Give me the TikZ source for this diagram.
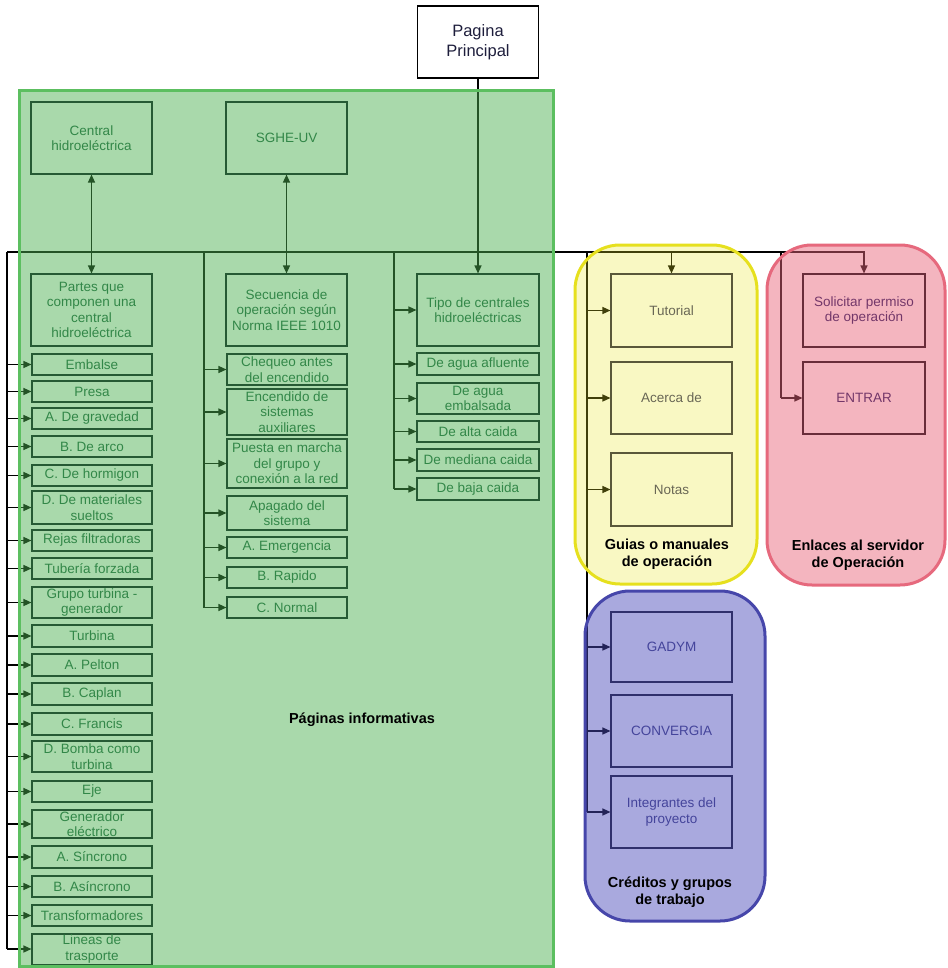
\documentclass[tikz,border=0pt]{standalone}
\usepackage{fontspec}
\setmainfont{Liberation Sans}
\usetikzlibrary{arrows.meta}

% connectors sit under the tinted zones, boxes and labels above them
\pgfdeclarelayer{links}
\pgfdeclarelayer{tint}
\pgfsetlayers{links,tint,main}

\definecolor{grnfill}{RGB}{76,175,80}
\definecolor{grnedge}{RGB}{92,191,96}
\definecolor{grnline}{RGB}{38,90,52}
\definecolor{grntext}{RGB}{50,135,72}
\definecolor{ylwfill}{RGB}{235,230,40}
\definecolor{ylwedge}{RGB}{230,224,30}
\definecolor{ylwline}{RGB}{90,88,58}
\definecolor{ylwtext}{RGB}{105,103,85}
\definecolor{pnkfill}{RGB}{232,100,122}
\definecolor{pnkedge}{RGB}{230,105,125}
\definecolor{pnkline}{RGB}{105,45,58}
\definecolor{pnktext}{RGB}{115,55,105}
\definecolor{blufill}{RGB}{75,75,185}
\definecolor{bluedge}{RGB}{70,70,170}
\definecolor{bluline}{RGB}{48,48,108}
\definecolor{blutext}{RGB}{68,68,155}
\definecolor{navy}{RGB}{30,30,60}

\tikzset{
  box/.style={draw, line width=1.1pt, inner sep=1pt, align=center,
    font=\fontsize{13.5}{15.5}\selectfont},
  sz/.style 2 args={minimum width=#1, minimum height=#2},
  gbox/.style={box, draw=grnline, text=grntext},
  ybox/.style={box, draw=ylwline, text=ylwtext},
  pbox/.style={box, draw=pnkline, text=pnktext},
  bbox/.style={box, draw=bluline, text=blutext},
  topbox/.style={box, draw=black, text=navy, font=\fontsize{16.5}{19.5}\selectfont},
  link/.style={draw=black, line width=1.3pt},
  arrowlink/.style={link, -{Triangle[length=8pt,width=7pt]}},
  dbl/.style={link, {Triangle[length=8pt,width=7pt]}-{Triangle[length=8pt,width=7pt]}},
  zonelabel/.style={align=center, text=black,
    font=\bfseries\fontsize{14.5}{16.5}\selectfont},
}

\begin{document}
\begin{tikzpicture}[x=1pt,y=-1pt]
\useasboundingbox (0,0) rectangle (947,968);

% ---------- top level ----------
\node[topbox, sz={121}{72}] (pp) at (478,42) {Pagina\\Principal};

% ---------- informative pages ----------
\node[gbox, sz={121}{72}] (central) at (91.5,138) {Central\\hidroeléctrica};
\node[gbox, sz={121}{72}] (sghe) at (286.5,138) {SGHE-UV};
\node[gbox, sz={121}{72}] (partes) at (91.5,310) {Partes que\\componen una\\central\\hidroeléctrica};
\node[gbox, sz={121}{72}] (secuencia) at (286.5,310) {Secuencia de\\operación según\\Norma IEEE 1010};
\node[gbox, sz={122}{72}] (tipo) at (478,310) {Tipo de centrales\\hidroeléctricas};

% parts of a plant
\node[gbox, sz={120}{21}] (embalse) at (92,364.5) {Embalse};
\node[gbox, sz={120}{21}] (presa) at (92,391.5) {Presa};
\node[gbox, sz={120}{21}] (gravedad) at (92,418.5) {A. De gravedad};
\node[gbox, sz={120}{21}] (arco) at (92,446.5) {B. De arco};
\node[gbox, sz={120}{21}] (hormigon) at (92,475.5) {C. De hormigon};
\node[gbox, sz={120}{33}] (materiales) at (92,507.5) {D. De materiales\\sueltos};
\node[gbox, sz={120}{21}] (rejas) at (92,540.5) {Rejas filtradoras};
\node[gbox, sz={120}{21}] (tuberia) at (92,568.5) {Tubería forzada};
\node[gbox, sz={120}{31}] (grupo) at (92,602.5) {Grupo turbina -\\generador};
\node[gbox, sz={120}{22}] (turbina) at (92,636) {Turbina};
\node[gbox, sz={120}{22}] (pelton) at (92,665) {A. Pelton};
\node[gbox, sz={120}{22}] (caplan) at (92,694) {B. Caplan};
\node[gbox, sz={120}{22}] (francis) at (92,724) {C. Francis};
\node[gbox, sz={120}{31}] (bomba) at (92,756.5) {D. Bomba como\\turbina};
\node[gbox, sz={120}{21}] (eje) at (92,791.5) {Eje};
\node[gbox, sz={120}{28}] (generador) at (92,824) {Generador\\eléctrico};
\node[gbox, sz={120}{22}] (sincrono) at (92,857) {A. Síncrono};
\node[gbox, sz={120}{21}] (asincrono) at (92,886.5) {B. Asíncrono};
\node[gbox, sz={120}{21}] (transf) at (92,915.5) {Transformadores};
\node[gbox, sz={120}{28}] (lineas) at (92,949) {Lineas de\\trasporte};

% operation sequence
\node[gbox, sz={120}{31}] (chequeo) at (287,369.5) {Chequeo antes\\del encendido};
\node[gbox, sz={120}{46}] (encendido) at (287,412) {Encendido de\\sistemas\\auxiliares};
\node[gbox, sz={120}{49}] (puesta) at (287,463.5) {Puesta en marcha\\del grupo y\\conexión a la red};
\node[gbox, sz={120}{34}] (apagado) at (287,513) {Apagado del\\sistema};
\node[gbox, sz={120}{21}] (emergencia) at (287,547.5) {A. Emergencia};
\node[gbox, sz={120}{21}] (rapido) at (287,577.5) {B. Rapido};
\node[gbox, sz={120}{21}] (normal) at (287,607.5) {C. Normal};

% plant types
\node[gbox, sz={122}{22}] (afluente) at (478,364) {De agua afluente};
\node[gbox, sz={122}{31}] (embalsada) at (478,398.5) {De agua\\embalsada};
\node[gbox, sz={122}{21}] (alta) at (478,431.5) {De alta caida};
\node[gbox, sz={122}{22}] (mediana) at (478,460) {De mediana caida};
\node[gbox, sz={122}{22}] (baja) at (478,489) {De baja caida};

% ---------- guides ----------
\node[ybox, sz={121}{73}] (tutorial) at (671.5,310.5) {Tutorial};
\node[ybox, sz={121}{72}] (acerca) at (671.5,398) {Acerca de};
\node[ybox, sz={121}{73}] (notas) at (671.5,489.5) {Notas};

% ---------- server links ----------
\node[pbox, sz={122}{73}] (solicitar) at (864,310.5) {Solicitar permiso\\de operación};
\node[pbox, sz={122}{72}] (entrar) at (864,398) {ENTRAR};

% ---------- credits ----------
\node[bbox, sz={121}{70}] (gadym) at (671.5,647) {GADYM};
\node[bbox, sz={121}{72}] (convergia) at (671.5,731) {CONVERGIA};
\node[bbox, sz={121}{72}] (integrantes) at (671.5,812) {Integrantes del\\proyecto};

% ---------- connectors ----------
\coordinate (sp1) at (7,252);
\coordinate (sp2) at (204,252);
\coordinate (sp3) at (394,252);
\coordinate (sp4) at (587,252);
\coordinate (sp5) at (781,252);

\begin{pgfonlayer}{links}
  \draw[arrowlink] (pp.south) -- (tipo.north);
  \draw[dbl] (central.south) -- (partes.north);
  \draw[dbl] (sghe.south) -- (secuencia.north);
  \draw[arrowlink] (sp1) -- (solicitar.north |- sp1) -- (solicitar.north);
  \draw[link] (sp1) -- (sp1 |- lineas.west);
  \foreach \b in {embalse,presa,gravedad,arco,hormigon,materiales,rejas,tuberia,
                  grupo,turbina,pelton,caplan,francis,bomba,eje,generador,
                  sincrono,asincrono,transf,lineas}
    \draw[arrowlink] (sp1 |- \b.west) -- (\b.west);
  \draw[link] (sp2) -- (sp2 |- normal.west);
  \foreach \b in {chequeo,encendido,puesta,apagado,emergencia,rapido,normal}
    \draw[arrowlink] (sp2 |- \b.west) -- (\b.west);
  \draw[link] (sp3) -- (sp3 |- baja.west);
  \foreach \b in {tipo,afluente,embalsada,alta,mediana,baja}
    \draw[arrowlink] (sp3 |- \b.west) -- (\b.west);
  \draw[link] (sp4) -- (sp4 |- integrantes.west);
  \foreach \b in {tutorial,acerca,notas,gadym,convergia,integrantes}
    \draw[arrowlink] (sp4 |- \b.west) -- (\b.west);
  \draw[arrowlink] (tutorial.north |- sp1) -- (tutorial.north);
  \draw[link] (sp5) -- (sp5 |- entrar.west);
  \draw[arrowlink] (sp5 |- entrar.west) -- (entrar.west);
\end{pgfonlayer}

% ---------- tinted zones ----------
\begin{pgfonlayer}{tint}
  \fill[grnfill, fill opacity=0.48] (19,91) rectangle (553,966);
  \draw[grnedge, line width=3pt] (19,91) rectangle (553,966);
  \fill[ylwfill, fill opacity=0.28, rounded corners=45pt] (575,245) rectangle (757,584);
  \draw[ylwedge, line width=3pt, rounded corners=45pt] (575,245) rectangle (757,584);
  \fill[pnkfill, fill opacity=0.48, rounded corners=45pt] (767,245) rectangle (945,585);
  \draw[pnkedge, line width=3pt, rounded corners=45pt] (767,245) rectangle (945,585);
  \fill[blufill, fill opacity=0.48, rounded corners=45pt] (585,591) rectangle (765,921);
  \draw[bluedge, line width=3pt, rounded corners=45pt] (585,591) rectangle (765,921);
\end{pgfonlayer}

% ---------- zone titles ----------
\node[zonelabel] (lblinfo) at (362,720) {Páginas informativas};
\node[zonelabel] (lblguias) at (667,554) {Guias o manuales\\de operación};
\node[zonelabel] (lblserv) at (858,555) {Enlaces al servidor\\de Operación};
\node[zonelabel] (lblcred) at (670,892) {Créditos y grupos\\de trabajo};

\end{tikzpicture}
\end{document}
